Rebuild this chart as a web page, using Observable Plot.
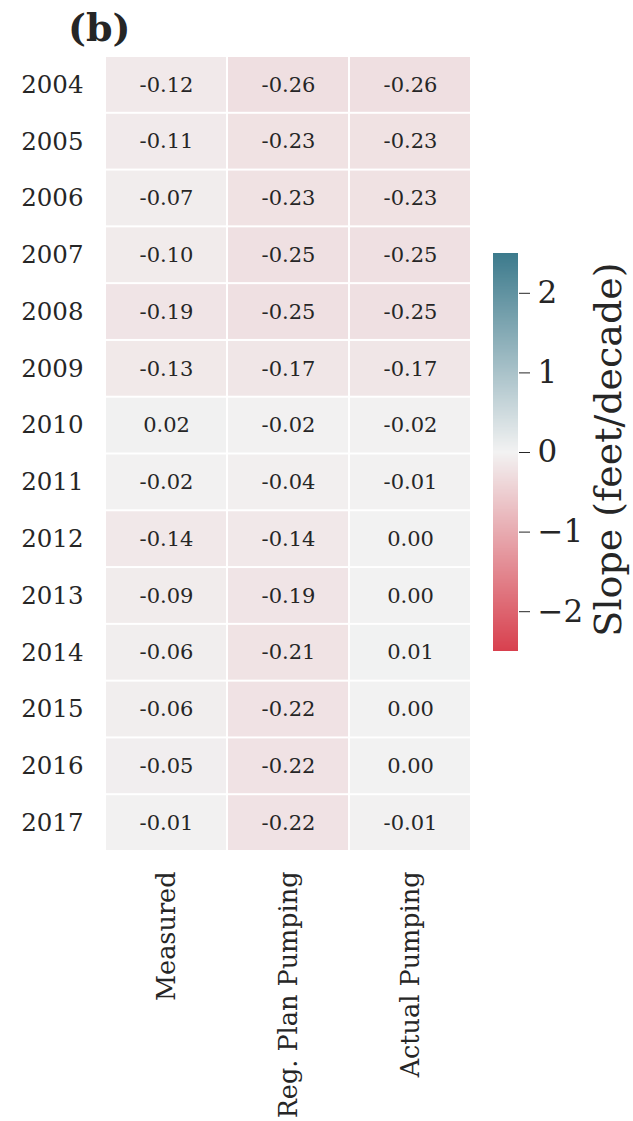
<!DOCTYPE html>
<html>
<head>
<meta charset="utf-8">
<script src="https://cdn.jsdelivr.net/npm/d3@7"></script>
<script src="https://cdn.jsdelivr.net/npm/@observablehq/plot@0.6"></script>
<style>
  body { margin: 0; background: #fff; font-family: "DejaVu Serif", serif; }
  #wrap { position: relative; width: 633px; height: 1121px; overflow: hidden; }
  #title { position: absolute; left: 68px; top: 9px; font: bold 38px/1 "DejaVu Serif", serif; color: #262626; }
  #main, #cbar { position: absolute; left: 0; top: 0; }
  #cbar { left: 493px; top: 243px; }
</style>
</head>
<body>
<div id="wrap">
  <div id="main"></div>
  <div id="cbar"></div>
  <div id="title">(b)</div>
</div>
<script>
const years = ["2004","2005","2006","2007","2008","2009","2010","2011","2012","2013","2014","2015","2016","2017"];
const columns = ["Measured", "Reg. Plan Pumping", "Actual Pumping"];
const measured   = [-0.12, -0.11, -0.07, -0.10, -0.19, -0.13, 0.02, -0.02, -0.14, -0.09, -0.06, -0.06, -0.05, -0.01];
const regPlan    = [-0.26, -0.23, -0.23, -0.25, -0.25, -0.17, -0.02, -0.04, -0.14, -0.19, -0.21, -0.22, -0.22, -0.22];
const actual     = [-0.26, -0.23, -0.23, -0.25, -0.25, -0.17, -0.02, -0.01, 0.00, 0.00, 0.01, 0.00, 0.00, -0.01];
const colorTicks = [-2, -1, 0, 1, 2];
const colorDomain = [-2.5, 0, 2.5];
const colorRange = ["#d8404e", "#f2f2f2", "#3c7a8c"];
const colorLabel = "Slope (feet/decade)";

const series = [measured, regPlan, actual];
const table = [];
columns.forEach((c, j) => years.forEach((y, i) => table.push({year: y, col: c, value: series[j][i]})));

const colorOpts = {type: "linear", domain: colorDomain, range: colorRange, interpolate: "rgb", clamp: true};
const FONT = "DejaVu Serif";
const fmtTick = d => d < 0 ? "\u2212" + Math.abs(d) : String(d);

const main = Plot.plot({
  width: 633,
  height: 1121,
  marginLeft: 105,
  marginRight: 162,
  marginTop: 56,
  marginBottom: 270,
  style: {fontFamily: FONT, color: "#262626", background: "white"},
  x: {domain: columns, padding: 0, round: false, label: null, axis: null},
  y: {domain: years, padding: 0, round: false, label: null, axis: null},
  color: colorOpts,
  marks: [
    Plot.cell(table, {x: "col", y: "year", fill: "value", inset: 1}),
    Plot.text(table, {x: "col", y: "year", text: d => d.value.toFixed(2), fill: "#262626", fontSize: 21, fontFamily: FONT}),
    Plot.axisY({anchor: "left", tickSize: 0, tickPadding: 22, fontSize: 24.5, label: null, fontFamily: FONT}),
    Plot.axisX({anchor: "bottom", tickSize: 0, tickPadding: 20, tickRotate: -90, fontSize: 25.5, label: null, fontFamily: FONT})
  ]
});
document.getElementById("main").appendChild(main);

const steps = d3.range(-2.5, 2.5, 0.01);
const cbar = Plot.plot({
  width: 140,
  height: 418,
  marginLeft: 0,
  marginRight: 115,
  marginTop: 10,
  marginBottom: 10,
  style: {fontFamily: FONT, color: "#262626", background: "transparent", overflow: "visible"},
  x: {domain: [0, 1], axis: null},
  y: {domain: [-2.5, 2.5], axis: null},
  color: colorOpts,
  marks: [
    Plot.rect(steps, {x1: 0, x2: 1, y1: d => d, y2: d => Math.min(2.5, d + 0.02), fill: d => d + 0.005, shapeRendering: "crispEdges"}),
    Plot.axisY({anchor: "right", ticks: colorTicks, tickFormat: fmtTick, tickSize: 11, tickPadding: 8, fontSize: 31, label: null, fontFamily: FONT, stroke: "#262626"}),
    Plot.text([colorLabel], {frameAnchor: "middle", dx: 103, dy: -3, rotate: -90, fontSize: 38, fill: "#262626", fontFamily: FONT})
  ]
});
document.getElementById("cbar").appendChild(cbar);
</script>
</body>
</html>
